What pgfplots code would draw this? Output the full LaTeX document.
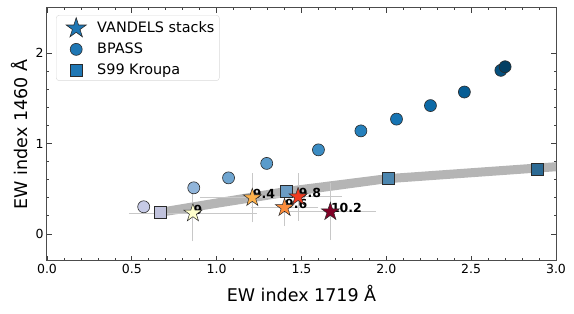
\documentclass[border=0pt]{standalone}
\usepackage{fontspec}
\setmainfont{DejaVu Sans}
\usepackage{pgfplots}
\pgfplotsset{compat=1.18}
\usetikzlibrary{calc}

\pgfdeclareplotmark{fstar}{%
  \pgfpathmoveto{\pgfpointpolar{90}{\pgfplotmarksize}}%
  \pgfpathlineto{\pgfpointpolar{126}{0.382\pgfplotmarksize}}%
  \pgfpathlineto{\pgfpointpolar{162}{\pgfplotmarksize}}%
  \pgfpathlineto{\pgfpointpolar{198}{0.382\pgfplotmarksize}}%
  \pgfpathlineto{\pgfpointpolar{234}{\pgfplotmarksize}}%
  \pgfpathlineto{\pgfpointpolar{270}{0.382\pgfplotmarksize}}%
  \pgfpathlineto{\pgfpointpolar{306}{\pgfplotmarksize}}%
  \pgfpathlineto{\pgfpointpolar{342}{0.382\pgfplotmarksize}}%
  \pgfpathlineto{\pgfpointpolar{18}{\pgfplotmarksize}}%
  \pgfpathlineto{\pgfpointpolar{54}{0.382\pgfplotmarksize}}%
  \pgfpathclose
  \pgfusepathqfillstroke
}

\definecolor{mplblue}{HTML}{1F77B4}
\definecolor{edge}{HTML}{2A2A2A}
\definecolor{errc}{HTML}{C8C8C8}
% BPASS (PuBu-like)
\definecolor{b1}{HTML}{C6CAE6}
\definecolor{b2}{HTML}{91B5DA}
\definecolor{b3}{HTML}{6FA5D0}
\definecolor{b4}{HTML}{5A9BCB}
\definecolor{b5}{HTML}{3B8CC3}
\definecolor{b6}{HTML}{2580BC}
\definecolor{b7}{HTML}{1674B3}
\definecolor{b8}{HTML}{0C69A6}
\definecolor{b9}{HTML}{075D94}
\definecolor{b10}{HTML}{05507E}
\definecolor{b11}{HTML}{033F63}
% S99
\definecolor{s1}{HTML}{C0C2DC}
\definecolor{s2}{HTML}{6B9CC4}
\definecolor{s3}{HTML}{4C86AF}
\definecolor{s4}{HTML}{2C6A94}
% stars (YlOrRd)
\definecolor{v1}{HTML}{FFFFCC}
\definecolor{v2}{HTML}{FEB24C}
\definecolor{v3}{HTML}{FD8D3C}
\definecolor{v4}{HTML}{F03B20}
\definecolor{v5}{HTML}{800026}

\tikzset{lab/.style={anchor=base west, inner sep=0pt, font=\bfseries\fontsize{12.5}{14}\selectfont, yshift=-1pt, xshift=0.5pt}}
\pgfplotsset{limg/.style={legend image code/.code={%
    \path[mark repeat=2, mark phase=2, ##1, draw=none] plot coordinates {(0pt,0pt) (17pt,0pt) (36pt,0pt)};}}}

\begin{document}
\begin{tikzpicture}
\begin{axis}[
  scale only axis,
  width=509pt, height=253pt,
  xmin=0, xmax=3, ymin=-0.3, ymax=2.5,
  xtick={0,0.5,1,1.5,2,2.5,3},
  xticklabels={0.0,0.5,1.0,1.5,2.0,2.5,3.0},
  ytick={0,1,2},
  minor x tick num=4,
  minor y tick num=4,
  tick align=inside,
  xtick pos=both, ytick pos=both,
  major tick length=5pt, minor tick length=2.5pt,
  tick style={black!75, line width=0.7pt},
  axis line style={black!70, line width=1pt},
  /pgf/number format/assume math mode=true,
  tick label style={font=\fontsize{12.5}{15}\selectfont},
  xlabel={EW index 1719 Å},
  ylabel={EW index 1460 Å},
  label style={font=\fontsize{17.5}{20}\selectfont},
  xlabel style={yshift=-4pt},
  ylabel style={yshift=1pt},
  legend style={at={(0.0177,0.972)}, anchor=north west,
    draw=black!15, rounded corners=3pt, fill=white,
    font=\fontsize{14.4}{17}\selectfont, row sep=4.5pt, inner xsep=3pt, inner ysep=2.5pt},
  legend cell align=left,
]
\addlegendimage{limg, mark=fstar, mark size=10.5pt, mark options={draw=edge, fill=mplblue, line width=0.6pt}}
\addlegendentry{VANDELS stacks}
\addlegendimage{limg, mark=*, mark size=6pt, mark options={draw=edge, fill=mplblue, line width=0.6pt}}
\addlegendentry{BPASS}
\addlegendimage{limg, mark=square*, mark size=6pt, mark options={draw=edge, fill=mplblue, line width=0.6pt}}
\addlegendentry{S99 Kroupa}

% S99 band
\addplot[forget plot, fill=gray!58, draw=none] coordinates {
  (0.67,0.29) (1.41,0.52) (2.0,0.66) (3.05,0.80)
  (3.05,0.70) (2.0,0.56) (1.41,0.41) (0.67,0.19)} -- cycle;

% error bars
\pgfplotsset{ebar/.style={forget plot, draw=errc, line width=0.9pt, mark=none,
  error bars/.cd, x dir=both, x explicit, y dir=both, y explicit,
  error bar style={draw=errc, line width=0.9pt},
  error mark options={draw=errc, line width=0.9pt, mark size=3pt}}}
\addplot[ebar] coordinates {(0.86,0.23) +- (0.36,0.28)};
\addplot[ebar] coordinates {(1.21,0.40) +- (0.29,0.24)};
\addplot[ebar] coordinates {(1.40,0.29) +- (0.18,0.17)};
\addplot[ebar] coordinates {(1.48,0.41) +- (0.24,0.23)};
\addplot[ebar] coordinates {(1.67,0.245) +- (0.25,0.28)};

% BPASS
\pgfplotsset{bp/.style={forget plot, only marks, mark=*, mark size=6pt, draw=edge, line width=0.6pt, fill=#1}}
\addplot[bp=b1] coordinates {(0.57,0.30)};
\addplot[bp=b2] coordinates {(0.865,0.51)};
\addplot[bp=b3] coordinates {(1.07,0.62)};
\addplot[bp=b4] coordinates {(1.295,0.78)};
\addplot[bp=b5] coordinates {(1.60,0.93)};
\addplot[bp=b6] coordinates {(1.85,1.14)};
\addplot[bp=b7] coordinates {(2.06,1.27)};
\addplot[bp=b8] coordinates {(2.26,1.42)};
\addplot[bp=b9] coordinates {(2.46,1.57)};
\addplot[bp=b10] coordinates {(2.675,1.81)};
\addplot[bp=b11] coordinates {(2.70,1.85)};

% S99
\pgfplotsset{sq/.style={forget plot, only marks, mark=square*, mark size=6pt, draw=edge, line width=0.6pt, fill=#1}}
\addplot[sq=s1] coordinates {(0.67,0.24)};
\addplot[sq=s2] coordinates {(1.41,0.47)};
\addplot[sq=s3] coordinates {(2.01,0.62)};
\addplot[sq=s4] coordinates {(2.89,0.72)};

% VANDELS stacks
\pgfplotsset{st/.style={forget plot, only marks, mark=fstar, mark size=9.5pt, draw=edge, line width=0.5pt, fill=#1}}
\addplot[st=v1] coordinates {(0.86,0.23)};
\node[lab] at (axis cs:0.86,0.23) {9};
\addplot[st=v2] coordinates {(1.21,0.40)};
\node[lab] at (axis cs:1.21,0.40) {9.4};
\addplot[st=v3] coordinates {(1.40,0.29)};
\node[lab] at (axis cs:1.40,0.29) {9.6};
\addplot[st=v4] coordinates {(1.48,0.41)};
\node[lab] at (axis cs:1.48,0.41) {9.8};
\addplot[st=v5] coordinates {(1.67,0.245)};
\node[lab] at (axis cs:1.67,0.245) {10.2};
\end{axis}
\path ($(current axis.south west)+(-47pt,-53pt)$) rectangle ($(current axis.north east)+(18pt,8pt)$);
\end{tikzpicture}
\end{document}
